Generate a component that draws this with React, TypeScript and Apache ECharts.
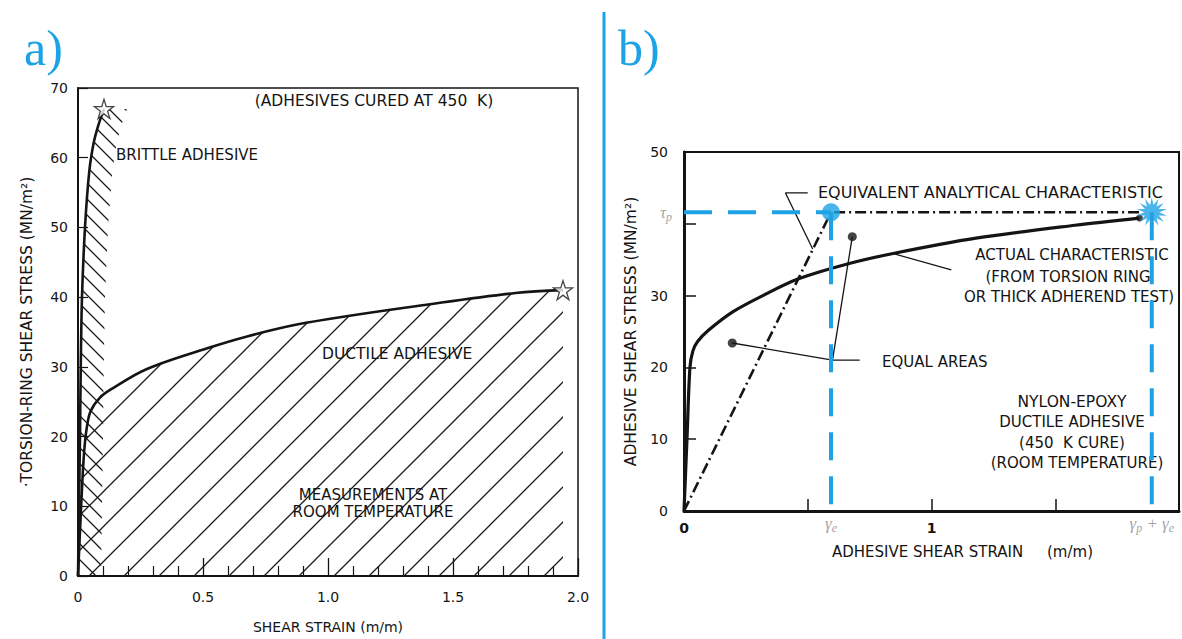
import React, { useEffect, useRef } from "react";
import * as echarts from "echarts";

// ---------- panel a) torsion-ring measurements ----------
// brittle adhesive: shear strain (m/m) vs shear stress (MN/m²)
const brittleStrain = [0, 0.004, 0.008, 0.011, 0.016, 0.028, 0.045, 0.062, 0.08, 0.104];
const brittleStress = [0, 10, 20, 30, 40, 50, 58, 62, 64.5, 67];
// ductile adhesive
const ductileStrain = [0, 0.01, 0.018, 0.025, 0.034, 0.05, 0.088, 0.142, 0.276, 0.52, 0.68, 0.88, 1.08, 1.35, 1.75, 1.94];
const ductileStress = [0, 8, 14, 18, 21, 23.6, 25.6, 27, 29.7, 32.7, 34.4, 36.1, 37.3, 38.7, 40.6, 41];
// failure points (stars)
const failureStrain = [0.104, 1.94];
const failureStress = [67, 41];

// ---------- panel b) equivalent elastic-plastic characteristic ----------
const actualStrain = [0, 0.012, 0.024, 0.036, 0.055, 0.1, 0.2, 0.33, 0.46, 0.66, 0.85, 1.18, 1.58, 1.84];
const actualStress = [0, 10, 20, 22.3, 23.6, 25.2, 27.8, 30.2, 32.3, 34.4, 35.9, 38, 39.8, 40.8];
const gammaE = 0.594; // elastic strain
const tauP = 41.6; // plastic shear stress
const gammaPE = 1.89; // total strain at failure
const analyticEndStrain = 1.84;
const equalAreaDots: [number, number][] = [[0.195, 23.4], [0.68, 38.2]];
const equalAreaJoint: [number, number] = [0.6, 21];
const equalAreaTail: [number, number] = [0.71, 21];
const equivLeader: [number, number][] = [[0.5, 44.3], [0.41, 44.3], [0.52, 36.5]];
const actualLeader: [number, number][] = [[1.08, 33.6], [0.85, 35.8]];

const zip = (xs: number[], ys: number[]) => xs.map((x, i) => [x, ys[i]]);

const BLUE = "#1ea2e6";
const INK = "#141414";
const SANS = '"DejaVu Sans", "Open Sans", sans-serif';
const SERIF = '"Liberation Serif", "DejaVu Serif", serif';

const STAR5 =
  "path://M0,-1 L0.2245,-0.309 L0.951,-0.309 L0.363,0.118 L0.588,0.809 L0,0.382 L-0.588,0.809 L-0.363,0.118 L-0.951,-0.309 L-0.2245,-0.309 Z";

function burstPath(points: number, inner: number) {
  const parts: string[] = [];
  for (let i = 0; i < points * 2; i++) {
    const r = i % 2 === 0 ? 1 : inner;
    const a = (Math.PI * i) / points - Math.PI / 2;
    parts.push(`${i === 0 ? "M" : "L"}${(r * Math.cos(a)).toFixed(3)},${(r * Math.sin(a)).toFixed(3)}`);
  }
  return "path://" + parts.join(" ") + " Z";
}

function hatch(size: number, dir: "/" | "\\", width: number) {
  const c = document.createElement("canvas");
  c.width = size;
  c.height = size;
  const ctx = c.getContext("2d")!;
  ctx.strokeStyle = "#1a1a1a";
  ctx.lineWidth = width;
  ctx.beginPath();
  if (dir === "/") {
    ctx.moveTo(-2, size + 2);
    ctx.lineTo(size + 2, -2);
    ctx.moveTo(-2, 2);
    ctx.lineTo(2, -2);
    ctx.moveTo(size - 2, size + 2);
    ctx.lineTo(size + 2, size - 2);
  } else {
    ctx.moveTo(-2, -2);
    ctx.lineTo(size + 2, size + 2);
    ctx.moveTo(-2, size - 2);
    ctx.lineTo(2, size + 2);
    ctx.moveTo(size - 2, -2);
    ctx.lineTo(size + 2, 2);
  }
  ctx.stroke();
  return { image: c.toDataURL(), repeat: "repeat", imageWidth: size, imageHeight: size };
}

function text(t: string, x: number, y: number, align = "left", size = 15) {
  return {
    type: "text",
    x,
    y,
    silent: true,
    style: { text: t, fill: INK, fontSize: size, fontFamily: SANS, align, verticalAlign: "middle" },
  };
}

function leader(data: number[][], extra: any = {}) {
  return {
    type: "line",
    xAxisIndex: 1,
    yAxisIndex: 1,
    data,
    symbol: "none",
    silent: true,
    z: 4,
    lineStyle: { color: INK, width: 1.3 },
    ...extra,
  };
}

export default function App() {
  const ref = useRef<HTMLDivElement>(null);

  useEffect(() => {
    document.body.style.margin = "0";
    const chart = echarts.init(ref.current!, undefined, { renderer: "svg" });

    const ductileHatch = hatch(35, "/", 1.3);
    const brittleHatch = hatch(16, "\\", 1.3);
    const labelStyle = { color: INK, fontSize: 14, fontFamily: SANS };
    const nameStyle = { color: INK, fontSize: 15, fontFamily: SANS };
    const greek = {
      g: { fontFamily: SERIF, fontStyle: "italic", fontSize: 17, color: "#8a8a8a" },
      s: { fontFamily: SERIF, fontStyle: "italic", fontSize: 12, color: "#8a8a8a", padding: [9, 0, 0, 0] },
    };

    const option: any = {
      animation: false,
      backgroundColor: "#fff",
      textStyle: { fontFamily: SANS },
      grid: [
        { left: 78, top: 88, width: 500, height: 493, show: true, borderColor: INK, borderWidth: 1.5 },
        { left: 684, top: 152, width: 502, height: 359, show: true, borderColor: INK, borderWidth: 2 },
      ],
      xAxis: [
        {
          gridIndex: 0,
          type: "value",
          min: 0,
          max: 2,
          interval: 0.5,
          name: "SHEAR STRAIN (m/m)",
          nameLocation: "middle",
          nameGap: 44,
          nameTextStyle: { ...labelStyle },
          axisLine: { lineStyle: { color: INK, width: 2 } },
          axisTick: { inside: true, length: 18, lineStyle: { color: INK, width: 1.3 } },
          minorTick: { show: true, splitNumber: 5, length: 10, lineStyle: { color: INK, width: 1.2 } },
          splitLine: { show: false },
          axisLabel: {
            ...labelStyle,
            margin: 14,
            formatter: (v: number) => (v === 0 ? "0" : v.toFixed(1)),
          },
        },
        {
          gridIndex: 1,
          type: "value",
          min: 0,
          max: 2,
          interval: 0.5,
          name: "ADHESIVE SHEAR STRAIN\u00a0\u00a0\u00a0\u00a0\u00a0(m/m)",
          nameLocation: "middle",
          nameGap: 33,
          nameTextStyle: { ...nameStyle, padding: [0, 0, 0, 62] },
          axisLine: { lineStyle: { color: INK, width: 3 } },
          axisTick: { inside: true, length: 12, lineStyle: { color: INK, width: 1.5 } },
          splitLine: { show: false },
          axisLabel: {
            ...labelStyle,
            fontWeight: "bold",
            margin: 10,
            formatter: (v: number) => (v === 0 ? "0" : v === 1 ? "1" : ""),
          },
        },
      ],
      yAxis: [
        {
          gridIndex: 0,
          type: "value",
          min: 0,
          max: 70,
          interval: 10,
          name: "\u00b7TORSION-RING SHEAR STRESS (MN/m\u00b2)",
          nameLocation: "middle",
          nameGap: 43,
          nameTextStyle: { ...nameStyle, fontSize: 15.5 },
          axisLine: { lineStyle: { color: INK, width: 2 } },
          axisTick: { inside: true, length: 10, lineStyle: { color: INK, width: 1.2 } },
          splitLine: { show: false },
          axisLabel: { ...labelStyle, margin: 10 },
        },
        {
          gridIndex: 1,
          type: "value",
          min: 0,
          max: 50,
          interval: 10,
          name: "ADHESIVE SHEAR STRESS (MN/m\u00b2)",
          nameLocation: "middle",
          nameGap: 45,
          nameTextStyle: { ...nameStyle, fontSize: 15.5 },
          axisLine: { lineStyle: { color: INK, width: 3 } },
          axisTick: { inside: true, length: 12, lineStyle: { color: INK, width: 1.5 } },
          splitLine: { show: false },
          axisLabel: { ...labelStyle, margin: 16, formatter: (v: number) => (v === 40 ? "" : String(v)) },
        },
      ],
      series: [
        // ---- panel a ----
        {
          type: "line",
          xAxisIndex: 0,
          yAxisIndex: 0,
          data: zip(ductileStrain, ductileStress),
          smooth: 0.35,
          symbol: "none",
          z: 3,
          lineStyle: { color: INK, width: 2.6 },
          areaStyle: { color: ductileHatch, opacity: 1 },
          silent: true,
        },
        {
          type: "custom",
          xAxisIndex: 0,
          yAxisIndex: 0,
          z: 1,
          silent: true,
          data: [[0, 0]],
          renderItem: (_p: any, api: any) => {
            const curve = zip(brittleStrain, brittleStress).map((p) => api.coord(p));
            const edge = curve.map(([x, y]: number[]) => [x + 23, y]).reverse();
            return {
              type: "polygon",
              shape: { points: [...curve, ...edge] },
              style: { fill: brittleHatch, stroke: null },
            };
          },
        },
        {
          type: "line",
          xAxisIndex: 0,
          yAxisIndex: 0,
          data: zip(brittleStrain, brittleStress),
          smooth: 0.35,
          symbol: "none",
          z: 3,
          lineStyle: { color: INK, width: 2.6 },
          silent: true,
        },
        {
          type: "scatter",
          xAxisIndex: 0,
          yAxisIndex: 0,
          data: zip(failureStrain, failureStress),
          symbol: STAR5,
          symbolSize: 19,
          z: 5,
          itemStyle: { color: "#fff", borderColor: INK, borderWidth: 1.3 },
          silent: true,
        },
        // ---- panel b ----
        {
          type: "line",
          xAxisIndex: 1,
          yAxisIndex: 1,
          data: zip(actualStrain, actualStress),
          smooth: 0.3,
          symbol: "none",
          z: 3,
          lineStyle: { color: INK, width: 3.2 },
          silent: true,
        },
        {
          type: "scatter",
          xAxisIndex: 1,
          yAxisIndex: 1,
          data: [[actualStrain[actualStrain.length - 1], actualStress[actualStress.length - 1]]],
          symbol: "circle",
          symbolSize: 7,
          z: 4,
          itemStyle: { color: INK },
          silent: true,
        },
        {
          type: "line",
          xAxisIndex: 1,
          yAxisIndex: 1,
          data: [[0, 0], [gammaE, tauP], [analyticEndStrain, tauP]],
          symbol: "none",
          z: 3,
          lineStyle: { color: INK, width: 2.6, type: [11, 4, 2, 4] },
          silent: true,
        },
        // blue construction lines
        ...[
          [[0, tauP], [gammaE, tauP]],
          [[gammaE, tauP], [gammaE, 0]],
          [[gammaPE, tauP], [gammaPE, 0]],
        ].map((d) => ({
          type: "line",
          xAxisIndex: 1,
          yAxisIndex: 1,
          data: d,
          symbol: "none",
          z: 6,
          lineStyle: { color: BLUE, width: 4, type: [28, 16] },
          silent: true,
        })),
        {
          type: "scatter",
          xAxisIndex: 1,
          yAxisIndex: 1,
          data: [[gammaE, tauP]],
          symbol: "circle",
          symbolSize: 18,
          z: 7,
          itemStyle: { color: BLUE },
          silent: true,
        },
        {
          type: "scatter",
          xAxisIndex: 1,
          yAxisIndex: 1,
          data: [[gammaPE, tauP]],
          symbol: burstPath(14, 0.5),
          symbolSize: 30,
          z: 7,
          itemStyle: { color: BLUE },
          silent: true,
        },
        // symbolic axis labels
        {
          type: "scatter",
          xAxisIndex: 1,
          yAxisIndex: 1,
          symbolSize: 0,
          z: 7,
          silent: true,
          data: [
            { value: [0, tauP], label: { position: "left", distance: 12, formatter: "{g|τ}{s|p}" } },
            { value: [gammaE, 0], label: { position: "bottom", distance: 2, formatter: "{g|γ}{s|e}" } },
            { value: [gammaPE, 0], label: { position: "bottom", distance: 2, formatter: "{g|γ}{s|p}{g| + γ}{s|e}" } },
          ],
          label: { show: true, rich: greek },
        },
        // callout leaders
        leader(equivLeader),
        leader(actualLeader, {
          markLine: {
            silent: true,
            symbol: ["none", "arrow"],
            symbolSize: [0, 9],
            label: { show: false },
            lineStyle: { color: INK, width: 1.3, type: "solid" },
            data: [[{ coord: actualLeader[0] }, { coord: actualLeader[1] }]],
          },
          lineStyle: { width: 0 },
        }),
        leader([equalAreaTail, equalAreaJoint, equalAreaDots[0]]),
        leader([equalAreaJoint, equalAreaDots[1]]),
        {
          type: "scatter",
          xAxisIndex: 1,
          yAxisIndex: 1,
          data: equalAreaDots,
          symbolSize: 9,
          z: 5,
          itemStyle: { color: INK },
          silent: true,
        },
      ],
      graphic: [
        {
          type: "line",
          silent: true,
          shape: { x1: 604, y1: 12, x2: 604, y2: 639 },
          style: { stroke: BLUE, lineWidth: 3 },
        },
        {
          type: "text",
          x: 24,
          y: 48,
          silent: true,
          style: { text: "a)", fill: BLUE, fontSize: 50, fontFamily: SERIF, verticalAlign: "middle" },
        },
        {
          type: "text",
          x: 618,
          y: 48,
          silent: true,
          style: { text: "b)", fill: BLUE, fontSize: 50, fontFamily: SERIF, verticalAlign: "middle" },
        },
        text("(ADHESIVES CURED AT 450\u00a0\u00a0K)", 374, 101, "center", 15.5),
        text("BRITTLE ADHESIVE", 116, 155),
        text("DUCTILE ADHESIVE", 322, 354, "left", 15.5),
        text("MEASUREMENTS AT", 373, 495, "center"),
        text("ROOM TEMPERATURE", 373, 512, "center"),
        text("EQUIVALENT ANALYTICAL CHARACTERISTIC", 818, 192, "left", 16),
        text("ACTUAL CHARACTERISTIC", 1072, 255, "center"),
        text("(FROM TORSION RING", 1068, 277, "center"),
        text("OR THICK ADHEREND TEST)", 1069, 297, "center"),
        text("EQUAL AREAS", 882, 362),
        text("NYLON-EPOXY", 1072, 402, "center", 15.5),
        text("DUCTILE ADHESIVE", 1072, 422, "center"),
        text("(450\u00a0\u00a0K CURE)", 1072, 443, "center"),
        text("(ROOM TEMPERATURE)", 1077, 463, "center"),
      ],
    };

    chart.setOption(option);
    return () => chart.dispose();
  }, []);

  return <div ref={ref} style={{ width: 1182, height: 639, background: "#fff" }} />;
}
